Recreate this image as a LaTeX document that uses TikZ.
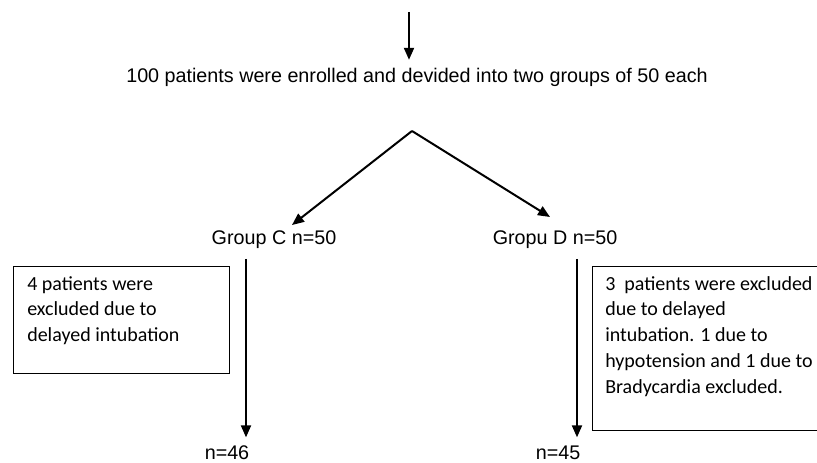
\documentclass[tikz,border=0pt]{standalone}
\usepackage{fontspec}
\setmainfont{Liberation Sans}
\newfontfamily\boxfont{Carlito}
\usetikzlibrary{arrows.meta}
\begin{document}
\begin{tikzpicture}[x=0.75pt,y=-0.75pt,
  arr/.style={-{Triangle[length=9pt,width=7.5pt]},line width=1.5pt},
  lbl/.style={inner sep=0pt,outer sep=6pt,font=\fontsize{14.8pt}{16pt}\selectfont},
  boxtxt/.style={anchor=north west,align=left,inner sep=0pt,font=\boxfont\fontsize{15pt}{19.3pt}\selectfont},
  boxline/.style={line width=0.75pt}]
\useasboundingbox (0,0) rectangle (817,463);
\coordinate (start) at (409,12);
\node[lbl] (enrol) at (417,77) {100 patients were enrolled and devided into two groups of 50 each};
\coordinate (apex) at (412,131);
\node[lbl] (gc) at (274,240) {Group C n=50};
\node[lbl] (gd) at (555,240) {Gropu D n=50};
\coordinate (cl) at (246,259);
\coordinate (cr) at (577,259);
\node[lbl,anchor=north,outer sep=0pt] (n46) at (227,446) {n=46};
\node[lbl,anchor=north,outer sep=0pt] (n45) at (558,446) {n=45};
\draw[arr] (start) -- (enrol.north -| start);
\draw[arr] (apex) -- (292,225);
\draw[arr] (apex) -- (550,217);
\draw[arr] (cl) -- ([yshift=6.5pt]cl |- n46.north);
\draw[arr] (cr) -- ([yshift=6.5pt]cr |- n45.north);
\draw[boxline] (13,267) rectangle (229,373);
\node[boxtxt] (bl) at (27,276) {4 patients were\\excluded due to\\delayed intubation};
\draw[boxline] (830,267) -| (592,430) -- (830,430);
\node[boxtxt] (br) at (605,276) {3\ \ patients were excluded\\due to delayed\\intubation. 1 due to\\hypotension and 1 due to\\Bradycardia excluded.};
\end{tikzpicture}
\end{document}
